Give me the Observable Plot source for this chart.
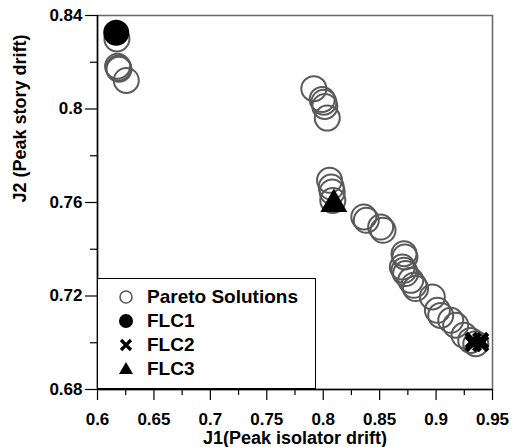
<!DOCTYPE html>
<html>
<head>
<meta charset="utf-8">
<script src="https://cdn.jsdelivr.net/npm/d3@7"></script>
<script src="https://cdn.jsdelivr.net/npm/@observablehq/plot@0.6"></script>
<style>
  html, body { margin: 0; padding: 0; background: #fff; }
  #wrap { position: relative; width: 523px; height: 447px; font-family: "Liberation Sans", Arial, sans-serif; font-weight: bold; }
  #legend { position: absolute; left: 97px; top: 278px; width: 219px; height: 111px; border: 1px solid #000; background: #fff; box-sizing: border-box; }
  .item { position: absolute; left: 0; height: 20px; display: flex; align-items: center; font-size: 19px; color: #000; }
  .item svg { width: 20px; height: 20px; margin-left: 18px; margin-right: 11px; }
</style>
</head>
<body>
<div id="wrap"></div>
<script>
// ---- data ----
const paretoJ1 = [0.6172, 0.6178, 0.6187, 0.6190, 0.6255, 0.7917, 0.7991, 0.8006, 0.8014, 0.8036,
  0.8056, 0.8071, 0.8080, 0.8085, 0.8360, 0.8382, 0.8509, 0.8530, 0.8716, 0.8724,
  0.8701, 0.8716, 0.8730, 0.8775, 0.8804, 0.8819, 0.8967, 0.9012, 0.9041, 0.9130,
  0.9174, 0.9248, 0.9307, 0.9352];
const paretoJ2 = [0.8300, 0.8183, 0.8175, 0.8170, 0.8122, 0.8087, 0.8041, 0.8029, 0.8011, 0.7961,
  0.7695, 0.7666, 0.7645, 0.7609, 0.7538, 0.7524, 0.7495, 0.7481, 0.7381, 0.7367,
  0.7324, 0.7310, 0.7296, 0.7267, 0.7246, 0.7232, 0.7196, 0.7139, 0.7117, 0.7096,
  0.7075, 0.7032, 0.7010, 0.6996];
const flc1J1 = [0.6166], flc1J2 = [0.8326];
const flc2J1 = [0.9330, 0.9395, 0.9330, 0.9395], flc2J2 = [0.7010, 0.7010, 0.6996, 0.6996];
const flc3J1 = [0.8094], flc3J2 = [0.7593];

const xDomain = [0.6, 0.95];
const yDomain = [0.68, 0.84];
const xMajor = [0.6, 0.65, 0.7, 0.75, 0.8, 0.85, 0.9, 0.95];
const xMinor = [0.625, 0.675, 0.725, 0.775, 0.825, 0.875, 0.925];
const yMajor = [0.68, 0.72, 0.76, 0.8, 0.84];
const yMinor = [0.70, 0.74, 0.78, 0.82];
const xTitle = "J1(Peak isolator drift)";
const yTitle = "J2 (Peak story drift)";
const legendLabels = ["Pareto Solutions", "FLC1", "FLC2", "FLC3"];

const zip = (a, b) => a.map((v, i) => ({x: v, y: b[i]}));
const pareto = zip(paretoJ1, paretoJ2);
const flc1 = zip(flc1J1, flc1J2);
const flc2 = zip(flc2J1, flc2J2);
const flc3 = zip(flc3J1, flc3J2);
const fmt = d => String(+d.toFixed(3));

const chart = Plot.plot({
  width: 523,
  height: 447,
  marginLeft: 97,
  marginRight: 31,
  marginTop: 15,
  marginBottom: 58,
  style: {fontFamily: "'Liberation Sans', Arial, sans-serif", fontWeight: "bold", fontSize: "17px", color: "#000", background: "#fff"},
  x: {domain: xDomain},
  y: {domain: yDomain},
  marks: [
    Plot.frame({stroke: "#666", strokeWidth: 1.5}),
    Plot.ruleX([xDomain[0]], {stroke: "#000", strokeWidth: 1.5}),
    Plot.ruleY([yDomain[0]], {stroke: "#000", strokeWidth: 1.5}),
    Plot.axisX({ticks: xMinor, tickSize: 6, tickFormat: () => "", label: null, strokeWidth: 1.2}),
    Plot.axisX({ticks: xMajor, tickSize: 11, tickFormat: () => "", label: null, strokeWidth: 1.2}),
    Plot.axisY({ticks: yMinor, tickSize: 7, tickFormat: () => "", label: null, strokeWidth: 1.2}),
    Plot.axisY({ticks: yMajor, tickSize: 12, tickFormat: () => "", label: null, strokeWidth: 1.2}),
    Plot.text(xMajor, {x: d => d, frameAnchor: "bottom", dy: 30, text: fmt, fontSize: 17, fontWeight: "bold", lineAnchor: "middle", fill: "#000"}),
    Plot.text(yMajor, {y: d => d, frameAnchor: "left", dx: -15, text: fmt, fontSize: 17, fontWeight: "bold", textAnchor: "end", fill: "#000"}),
    Plot.text([xTitle], {frameAnchor: "bottom", dy: 49, text: d => d, fontSize: 18, fontWeight: "bold", lineAnchor: "middle", fill: "#000"}),
    Plot.text([yTitle], {frameAnchor: "left", dx: -77, text: d => d, fontSize: 18, fontWeight: "bold", rotate: -90, fill: "#000"}),
    Plot.dot(pareto, {x: "x", y: "y", r: 12.5, stroke: "#5a5a5a", strokeWidth: 2, fill: "none"}),
    Plot.dot(flc1, {x: "x", y: "y", r: 13, fill: "#000", stroke: "none"}),
    Plot.dot(flc2, {x: "x", y: "y", symbol: "times", r: 6.5, stroke: "#000", strokeWidth: 4.5}),
    Plot.dot(flc3, {x: "x", y: "y", symbol: "triangle", r: 10, fill: "#000", stroke: "none"})
  ]
});

const wrap = document.getElementById("wrap");
wrap.appendChild(chart);

// legend overlay
const symbols = [
  '<circle cx="10" cy="10" r="6" fill="none" stroke="#5a5a5a" stroke-width="1.6"/>',
  '<circle cx="10" cy="10" r="7" fill="#000"/>',
  '<path d="M5,5L15,15M15,5L5,15" stroke="#000" stroke-width="3.2"/>',
  '<path d="M10,3L17,15L3,15Z" fill="#000"/>'
];
const legend = document.createElement("div");
legend.id = "legend";
legendLabels.forEach((lab, i) => {
  const it = document.createElement("div");
  it.className = "item";
  it.style.top = (8 + i * 24) + "px";
  it.innerHTML = '<svg viewBox="0 0 20 20">' + symbols[i] + '</svg><span>' + lab + '</span>';
  legend.appendChild(it);
});
wrap.appendChild(legend);
</script>
</body>
</html>
